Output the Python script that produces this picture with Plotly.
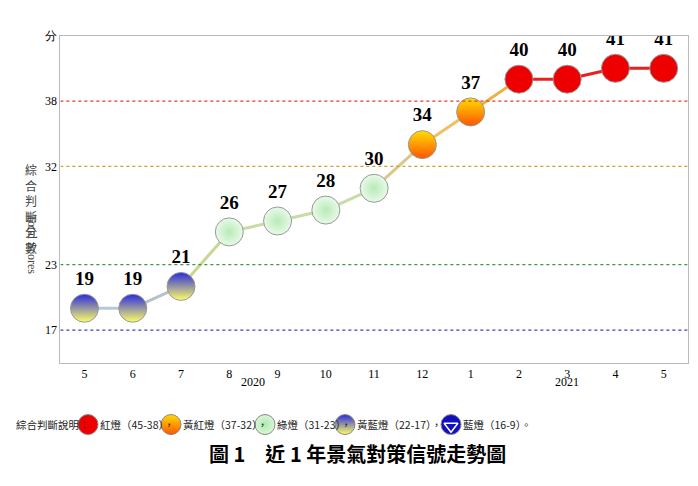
import plotly.graph_objects as go

months = ['5', '6', '7', '8', '9', '10', '11', '12', '1', '2', '3', '4', '5']
scores = [19, 19, 21, 26, 27, 28, 30, 34, 37, 40, 40, 41, 41]
seg_colors = ['#b8c8dc', '#b8c0c8', '#c8d890', '#c8dca8', '#c8dca8', '#c8dca8',
              '#d8c890', '#f0c060', '#f0b040', '#e82020', '#e82020', '#e82020']
ref_lines = [(38, '#e03a2a'), (32, '#d4a020'), (23, '#3a9a3a'), (17, '#3a3ad0')]
ticks = [17, 23, 32, 38, 44]
tick_text = ['17', '23', '32', '38', '分']


def light_style(v):
    # (fill, gradient colour, gradient type)
    if v >= 38:
        return '#ee0000', '#ee0000', 'none'
    if v >= 32:
        return '#ffdd00', '#ff5500', 'vertical'
    if v >= 23:
        return '#e8fae8', '#b8eab8', 'radial'
    return '#2a2ae0', '#ffff66', 'vertical'


fig = go.Figure()
x = list(range(len(months)))

for i, c in enumerate(seg_colors):
    fig.add_trace(go.Scatter(x=x[i:i + 2], y=scores[i:i + 2], mode='lines',
                             line=dict(color=c, width=3), hoverinfo='skip'))

for v, c in ref_lines:
    fig.add_shape(type='line', xref='x', yref='y', x0=-0.5, x1=12.5, y0=v, y1=v,
                  line=dict(color=c, width=1.3, dash='dot'))

for xi, v in zip(x, scores):
    fill, grad, gtype = light_style(v)
    fig.add_trace(go.Scatter(
        x=[xi], y=[v], mode='markers+text', text=['<b>%d</b>' % v], textposition='top center',
        textfont=dict(family='Liberation Serif', size=19, color='black'),
        marker=dict(size=28, color=fill, gradient=dict(type=gtype, color=grad),
                    line=dict(color='#999999', width=1))))

# legend strip
leg_x = [80, 163, 257, 337, 443]
leg_fill = ['#ee0000', '#ffdd00', '#d8f8d8', '#2a2ae0', '#1010c0']
leg_grad = ['#ee0000', '#ff5500', '#b0e8b0', '#ffff66', '#1010c0']
leg_type = ['none', 'vertical', 'radial', 'vertical', 'none']
leg_text = ['紅燈（45-38）', '黃紅燈（37-32）', '綠燈（31-23）', '黃藍燈（22-17）', '藍燈（16-9）']
for lx, f, g, t in zip(leg_x, leg_fill, leg_grad, leg_type):
    fig.add_trace(go.Scatter(x=[lx], y=[0.5], xaxis='x2', yaxis='y2', mode='markers',
                             marker=dict(size=20, color=f, gradient=dict(type=t, color=g),
                                         line=dict(color='#888888', width=1))))
fig.add_trace(go.Scatter(x=[443], y=[0.45], xaxis='x2', yaxis='y2', mode='markers',
                         marker=dict(size=12, symbol='triangle-down-open', color='white',
                                     line=dict(color='white', width=1.5))))

ann = [dict(x=6, y=0.5, xref='x2', yref='y2', text='綜合判斷說明：', xanchor='left')]
seps = ['，', '，', '，', '，', '。']
for lx, t, s in zip(leg_x, leg_text, seps):
    ann.append(dict(x=lx + 10, y=0.5, xref='x2', yref='y2', text=t + s, xanchor='left'))
for a in ann:
    a.update(showarrow=False, font=dict(family='Noto Sans CJK TC', size=10.5, color='#222'))
    fig.add_annotation(**a)

fig.add_annotation(x=3.5, y=0.215, xref='x', yref='paper', text='2020', showarrow=False,
                   font=dict(family='Liberation Serif', size=12, color='black'))
fig.add_annotation(x=10, y=0.215, xref='x', yref='paper', text='2021', showarrow=False,
                   font=dict(family='Liberation Serif', size=12, color='black'))
fig.add_annotation(x=0.5, y=0.05, xref='paper', yref='paper', showarrow=False,
                   text='<b>圖 1　近 1 年景氣對策信號走勢圖</b>',
                   font=dict(family='Noto Sans CJK TC', size=20, color='black'))
fig.add_annotation(x=0.022, y=0.70, xref='paper', yref='paper', showarrow=False,
                   text='綜<br>合<br>判<br>斷<br>分<br>數', font=dict(family='Noto Sans CJK TC', size=12, color='#444'))
fig.add_annotation(x=0.022, y=0.52, xref='paper', yref='paper', showarrow=False, textangle=90,
                   text='Total Scores', font=dict(family='Liberation Serif', size=12, color='#444'))

fig.update_layout(
    width=698, height=486, showlegend=False, plot_bgcolor='white', paper_bgcolor='white',
    margin=dict(l=0, r=0, t=0, b=0),
    xaxis=dict(domain=[0.075, 0.974], range=[-0.5, 12.5], tickvals=x, ticktext=months,
               showgrid=False, zeroline=False, showline=True, mirror=True, linecolor='#bbbbbb',
               ticklen=0, tickfont=dict(family='Liberation Serif', size=12, color='black')),
    yaxis=dict(domain=[0.274, 0.957], range=[14, 44], tickvals=ticks, ticktext=tick_text,
               showgrid=False, zeroline=False, showline=True, mirror=True, linecolor='#bbbbbb',
               ticklen=0, tickfont=dict(family='Liberation Serif', size=12, color='black')),
    xaxis2=dict(domain=[0, 1], range=[0, 698], visible=False, anchor='y2'),
    yaxis2=dict(domain=[0.11, 0.18], range=[0, 1], visible=False, anchor='x2'),
)

fig.write_html('out.html')
